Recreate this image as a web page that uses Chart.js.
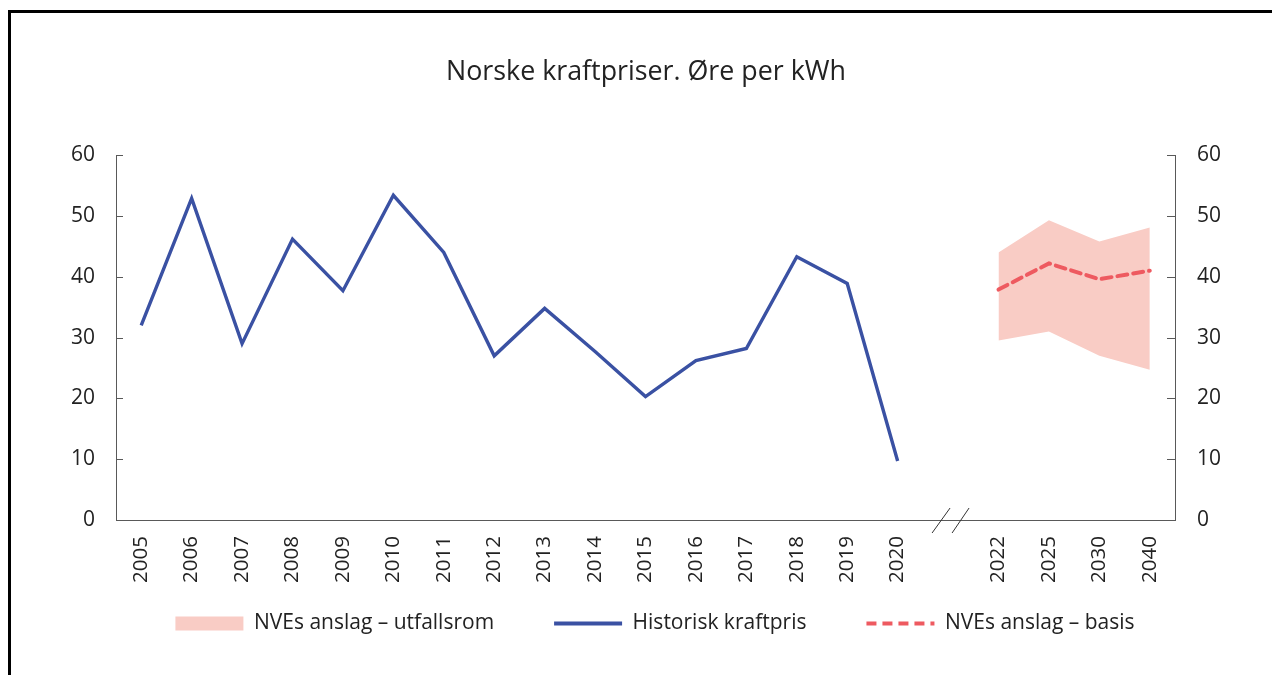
<!DOCTYPE html>
<html>
<head>
<meta charset="utf-8">
<script src="https://cdn.jsdelivr.net/npm/chart.js@4"></script>
<style>
  html, body { margin: 0; padding: 0; background: #fff; }
  #frame { position: absolute; left: 8px; top: 10px; width: 1272px; height: 680px;
           border-left: 3px solid #000; border-top: 3px solid #000; }
  #wrap { position: absolute; left: 0; top: 0; width: 1272px; height: 675px; }
</style>
</head>
<body>
<div id="frame"></div>
<div id="wrap"><canvas id="myChart" width="1272" height="675"></canvas></div>
<script>
  // years on the x axis, '' is the gap for the axis break
  var years = ['2005','2006','2007','2008','2009','2010','2011','2012','2013','2014',
               '2015','2016','2017','2018','2019','2020','','2022','2025','2030','2040'];

  var historisk = [32.0, 52.9, 29.0, 46.2, 37.7, 53.4, 44.0, 27.0, 34.8, 27.7,
                   20.3, 26.2, 28.2, 43.3, 38.9, 9.7, null, null, null, null, null];

  var basis = [null, null, null, null, null, null, null, null, null, null,
               null, null, null, null, null, null, null, 37.9, 42.2, 39.6, 41.0];

  var utfallHoy = [null, null, null, null, null, null, null, null, null, null,
                   null, null, null, null, null, null, null, 44.0, 49.3, 45.8, 48.1];

  var utfallLav = [null, null, null, null, null, null, null, null, null, null,
                   null, null, null, null, null, null, null, 29.5, 31.0, 27.0, 24.7];

  var yTicks = [0, 10, 20, 30, 40, 50, 60];

  var BLUE = '#3a51a3';
  var RED = '#ee5a60';
  var PINK = '#f9ccc5';
  var AXIS = '#595959';
  var TEXT = '#222';
  var FONT = "'Open Sans', 'Noto Sans', sans-serif";

  // inward tick marks on both y axes and the // break on the x axis
  var axisExtras = {
    id: 'axisExtras',
    afterLayout: function (chart) {
      // legend sits inside the lower part of the x label band
      var lg = chart.legend;
      lg.top -= 29; lg.bottom -= 29;
      lg.left += 9; lg.right += 9;
    },
    afterDraw: function (chart) {
      var ctx = chart.ctx;
      var yl = chart.scales.y, yr = chart.scales.y2, x = chart.scales.x;
      ctx.save();
      ctx.strokeStyle = AXIS;
      ctx.lineWidth = 1;
      yTicks.forEach(function (v) {
        var py = Math.round(yl.getPixelForValue(v)) + 0.5;
        ctx.beginPath();
        ctx.moveTo(yl.right, py); ctx.lineTo(yl.right + 7, py);
        ctx.moveTo(yr.left - 8, py); ctx.lineTo(yr.left, py);
        ctx.stroke();
      });
      var bx = x.getPixelForValue(16);
      var by = yl.getPixelForValue(0);
      ctx.strokeStyle = '#333';
      ctx.beginPath();
      ctx.moveTo(bx - 16, by + 13); ctx.lineTo(bx + 2, by - 12);
      ctx.moveTo(bx + 4, by + 13); ctx.lineTo(bx + 21, by - 12);
      ctx.stroke();
      ctx.restore();
    }
  };

  var chart = new Chart('myChart', {
    type: 'line',
    data: {
      labels: years,
      datasets: [
        { label: 'NVEs anslag – utfallsrom', data: utfallHoy, borderWidth: 0,
          borderColor: PINK, backgroundColor: PINK, fill: '+1', pointRadius: 0, order: 3 },
        { label: 'lav', data: utfallLav, borderWidth: 0, borderColor: PINK,
          backgroundColor: PINK, fill: false, pointRadius: 0, order: 3 },
        { label: 'Historisk kraftpris', data: historisk, borderColor: BLUE, backgroundColor: BLUE,
          borderWidth: 3.4, pointRadius: 0, fill: false, order: 1, tension: 0 },
        { label: 'NVEs anslag – basis', data: basis, borderColor: RED, backgroundColor: RED,
          borderWidth: 4, borderDash: [10, 6], borderCapStyle: 'round', pointRadius: 0,
          fill: false, order: 2 }
      ]
    },
    options: {
      responsive: false,
      animation: false,
      devicePixelRatio: 1,
      layout: { padding: { top: 0, bottom: 2, left: 20, right: 0 } },
      plugins: {
        tooltip: { enabled: false },
        title: {
          display: true,
          text: 'Norske kraftpriser. Øre per kWh',
          color: TEXT,
          font: { family: FONT, size: 26.8, weight: 'normal' },
          padding: { top: 56, bottom: 67 }
        },
        legend: {
          position: 'bottom',
          labels: {
            color: TEXT,
            font: { family: FONT, size: 21 },
            usePointStyle: true,
            pointStyleWidth: 68,
            boxWidth: 68,
            boxHeight: 14,
            padding: 60,
            filter: function (item) { return item.text !== 'lav'; },
            generateLabels: function (ch) {
              return ch.data.datasets.map(function (ds, i) {
                var band = i === 0;
                return {
                  text: ds.label,
                  datasetIndex: i,
                  fillStyle: band ? PINK : 'rgba(0,0,0,0)',
                  strokeStyle: ds.borderColor,
                  lineWidth: band ? 0 : 4,
                  lineDash: ds.borderDash || [],
                  lineCap: 'butt',
                  pointStyle: band ? 'rect' : 'line',
                  fontColor: TEXT,
                  hidden: false
                };
              });
            }
          }
        }
      },
      scales: {
        x: {
          offset: true,
          grid: { display: false, drawTicks: false, offset: true },
          border: { color: AXIS, width: 1 },
          ticks: { color: TEXT, font: { family: FONT, size: 20.5 }, padding: 16,
                   minRotation: 90, maxRotation: 90, autoSkip: false },
          afterFit: function (s) { s.height = 62; }
        },
        y: {
          position: 'left', min: 0, max: 60,
          grid: { display: false, drawTicks: false },
          border: { color: AXIS, width: 1 },
          ticks: { stepSize: 10, color: TEXT, font: { family: FONT, size: 21 }, padding: 21 },
          afterFit: function (s) { s.width = 96; }
        },
        y2: {
          position: 'right', min: 0, max: 60,
          grid: { display: false, drawTicks: false },
          border: { color: AXIS, width: 1 },
          ticks: { stepSize: 10, color: TEXT, font: { family: FONT, size: 21 }, padding: 22 },
          afterFit: function (s) { s.width = 97; }
        }
      }
    },
    plugins: [axisExtras]
  });
</script>
</body>
</html>
